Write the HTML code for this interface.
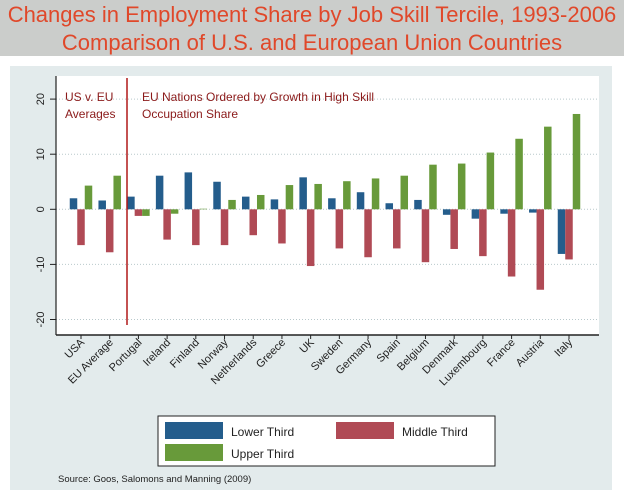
<!DOCTYPE html>
<html><head><meta charset="utf-8"><style>
body{margin:0;width:624px;height:491px;background:#fff;overflow:hidden;font-family:"Liberation Sans",Arial,sans-serif}
</style></head><body>
<svg width="624" height="491" xmlns="http://www.w3.org/2000/svg" font-family="Liberation Sans, Arial, sans-serif">
<rect x="0" y="0" width="624" height="56" fill="#cbcdcb"/>
<text x="312" y="22" text-anchor="middle" font-size="22" fill="#e0482a">Changes in Employment Share by Job Skill Tercile, 1993-2006</text>
<text x="312" y="50" text-anchor="middle" font-size="22" fill="#e0482a">Comparison of U.S. and European Union Countries</text>
<rect x="10" y="66" width="602" height="424" fill="#e3ebec"/>
<rect x="56" y="76" width="543" height="259" fill="#fff"/>
<g id="grid"></g>
<g id="bars"></g>
<line x1="56" y1="76" x2="56" y2="335" stroke="#222" stroke-width="1.2"/>
<line x1="56" y1="335" x2="599" y2="335" stroke="#222" stroke-width="1.5"/>
<line x1="127" y1="78" x2="127" y2="325" stroke="#b01818" stroke-width="1.5"/>
<text x="65" y="101" font-size="12" fill="#8b1a1a"><tspan x="65">US v. EU</tspan><tspan x="65" dy="17">Averages</tspan></text>
<text x="142" y="101" font-size="12" fill="#8b1a1a"><tspan x="142">EU Nations Ordered by Growth in High Skill</tspan><tspan x="142" dy="17">Occupation Share</tspan></text>
<g id="yticks"></g>
<g id="xlabels"></g>
<g>
<rect x="158" y="416" width="337" height="50" fill="#fff" stroke="#222"/>
<rect x="165" y="422" width="58" height="17" fill="#245d8c"/>
<text x="231" y="436" font-size="12" fill="#222">Lower Third</text>
<rect x="336" y="422" width="58" height="17" fill="#b04a55"/>
<rect x="165" y="444" width="58" height="17" fill="#689a3a"/>
<text x="231" y="458" font-size="12" fill="#222">Upper Third</text>
<text x="402" y="436" font-size="12" fill="#222">Middle Third</text>
</g>
<text x="58" y="482" font-size="9.5" fill="#222">Source: Goos, Salomons and Manning (2009)</text>
</svg>
<script>
const categories=["USA","EU Average","Portugal","Ireland","Finland","Norway","Netherlands","Greece","UK","Sweden","Germany","Spain","Belgium","Denmark","Luxembourg","France","Austria","Italy"];
const lowerThird=[2,1.6,2.3,6.1,6.7,5,2.3,1.8,5.8,2,3.1,1.1,1.7,-1,-1.7,-0.8,-0.6,-8.1];
const middleThird=[-6.5,-7.8,-1.2,-5.5,-6.5,-6.5,-4.7,-6.2,-10.3,-7.1,-8.7,-7.1,-9.6,-7.2,-8.5,-12.2,-14.6,-9.1];
const upperThird=[4.3,6.1,-1.2,-0.8,0.1,1.7,2.6,4.4,4.6,5.1,5.6,6.1,8.1,8.3,10.3,12.8,15,17.3];
const yTicks=[20,10,0,-10,-20];
const NS="http://www.w3.org/2000/svg";
function y(v){return 209.3-v*5.51;}
function xc(i){return 81+i*(569-81)/(categories.length-1);}
function mk(tag,attrs,parent){const e=document.createElementNS(NS,tag);for(const k in attrs)e.setAttribute(k,attrs[k]);document.getElementById(parent).appendChild(e);return e;}
yTicks.forEach(t=>{
  const g=mk('line',{x1:56,x2:599,y1:y(t),y2:y(t),stroke:'#b9c9cc','stroke-dasharray':'1,2'},'grid');
  
  
  const tk=mk('line',{x1:50,x2:56,y1:y(t),y2:y(t),stroke:'#222'},'yticks');
  
  
  const tx=mk('text',{x:0,y:0,'font-size':11,fill:'#222','text-anchor':'middle',transform:`translate(44,${y(t)}) rotate(-90)`},'yticks');
  tx.textContent=t;
  
  
});
const series=[[lowerThird,'#245d8c',-1],[middleThird,'#b04a55',0],[upperThird,'#689a3a',1]];
const bw=7.5;
categories.forEach((c,i)=>{
  series.forEach(([vals,col,off])=>{
    const v=vals[i],x=xc(i)+off*bw-bw/2;
    const r=mk('rect',{x:x,y:Math.min(y(v),y(0)),width:bw,height:Math.abs(y(v)-y(0)),fill:col},'bars');
    
    
  });
  const tk=mk('line',{x1:xc(i),x2:xc(i),y1:335,y2:339,stroke:'#222'},'xlabels');
  
  
  const t=mk('text',{x:0,y:0,'font-size':11,fill:'#222','text-anchor':'end',transform:`translate(${xc(i)+4},${343}) rotate(-45)`},'xlabels');
  t.textContent=c;
  
  
});
</script>
</body></html>
